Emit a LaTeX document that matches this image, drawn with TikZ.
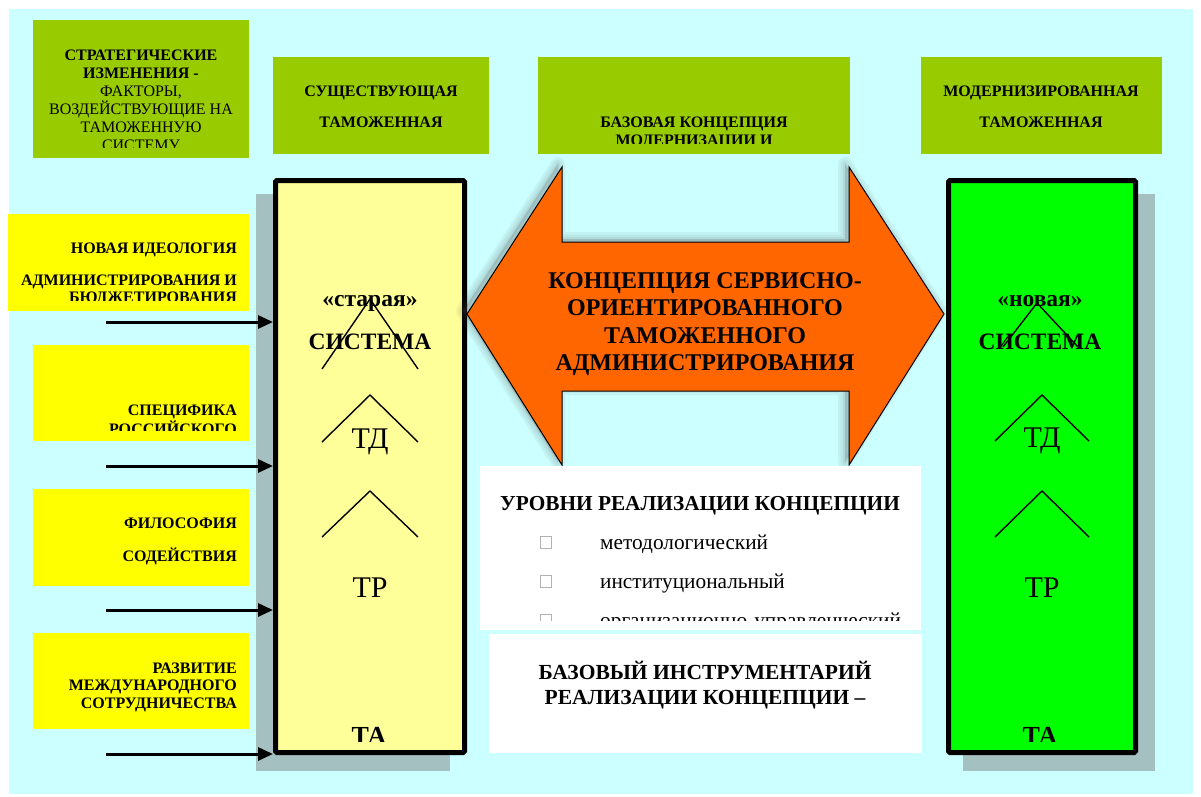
\documentclass[tikz,border=0pt]{standalone}
\usepackage{fontspec}
\setmainfont{Liberation Serif}
\usetikzlibrary{arrows.meta}
\definecolor{bgcyan}{HTML}{CCFFFF}
\definecolor{topgreen}{HTML}{99CC00}
\definecolor{yel}{HTML}{FFFF00}
\definecolor{lightyel}{HTML}{FFFF99}
\definecolor{brightgreen}{HTML}{00FF00}
\definecolor{orng}{HTML}{FF6600}
\definecolor{shadowc}{HTML}{A5C0C1}
\newcommand{\sz}[2]{\fontsize{#1}{#2}\selectfont}
\newcommand{\dblarrowpath}{(467,314) -- (562,167) -- (562,242) -- (849,242) -- (849,167) -- (944,314)
  -- (849,465) -- (849,391) -- (562,391) -- (562,465) -- cycle}
\begin{document}
\begin{tikzpicture}[x=1pt,y=-1pt,
  hdrbox/.style={fill=topgreen},
  sidebox/.style={fill=yel},
  whitebox/.style={fill=white},
  sysbox/.style={draw=black,line width=5pt,rounded corners=1.5pt,inner sep=0pt,outer sep=2.5pt},
  hdrtext/.style={anchor=base,align=center,inner sep=0pt,font=\bfseries\sz{16}{31}},
  sidetext/.style={anchor=base east,align=right,inner sep=0pt,font=\bfseries\sz{16}{17}},
  feed/.style={line width=3pt,-{Triangle[length=15pt,width=13pt]}},
  chev/.style={line width=1.4pt},
  chk/.style={draw=gray!60,line width=0.6pt,minimum width=11pt,minimum height=12pt,inner sep=0pt},
  item/.style={anchor=base west,inner sep=0pt,font=\sz{21.3}{24}},
  systext/.style={anchor=base,inner sep=0pt,font=\bfseries\sz{23.5}{26}},
  lvltext/.style={anchor=base,inner sep=0pt,font=\sz{30}{32}},
  softshadow/.style={draw=black!70,fill=black!70,line join=round,opacity=0.07,line width=#1}
]
\useasboundingbox (0,0) rectangle (1201,796);
\fill[white] (0,0) rectangle (1201,796);
\fill[bgcyan] (9,9) rectangle (1193,794);

% top header boxes
\fill[hdrbox] (33,20) rectangle (249,158);
\begin{scope}
\clip (33,20) rectangle (249,147);
\node[anchor=base,align=center,inner sep=0pt,font=\sz{16}{18}] (strat) at (141,150)
  {\textbf{СТРАТЕГИЧЕСКИЕ}\\\textbf{ИЗМЕНЕНИЯ -}\\ФАКТОРЫ,\\ВОЗДЕЙСТВУЮЩИЕ НА\\ТАМОЖЕННУЮ\\СИСТЕМУ};
\end{scope}

\fill[hdrbox] (273,57) rectangle (489,154);
\node[hdrtext] (exist) at (381,127) {СУЩЕСТВУЮЩАЯ\\ТАМОЖЕННАЯ};

\fill[hdrbox] (538,57) rectangle (850,154);
\begin{scope}
\clip (538,57) rectangle (850,143);
\node[hdrtext,font=\bfseries\sz{16}{18}] (base) at (694,145) {БАЗОВАЯ КОНЦЕПЦИЯ\\МОДЕРНИЗАЦИИ И};
\end{scope}

\fill[hdrbox] (921,57) rectangle (1162,154);
\node[hdrtext] (modern) at (1041,127) {МОДЕРНИЗИРОВАННАЯ\\ТАМОЖЕННАЯ};

% left factor boxes
\fill[sidebox] (8,214) rectangle (249,311);
\begin{scope}
\clip (8,214) rectangle (249,300);
\node[sidetext] (f1) at (237,302) {НОВАЯ ИДЕОЛОГИЯ\\[15pt]АДМИНИСТРИРОВАНИЯ И\\БЮДЖЕТИРОВАНИЯ};
\end{scope}

\fill[sidebox] (33,345) rectangle (249,441);
\begin{scope}
\clip (33,345) rectangle (249,430);
\node[sidetext] (f2) at (237,434) {СПЕЦИФИКА\\РОССИЙСКОГО};
\end{scope}

\fill[sidebox] (33,489) rectangle (249,586);
\node[sidetext,font=\bfseries\sz{16}{33}] (f3) at (237,561) {ФИЛОСОФИЯ\\СОДЕЙСТВИЯ};

\fill[sidebox] (33,633) rectangle (249,729);
\node[sidetext,font=\bfseries\sz{16}{17.5}] (f4) at (237,708) {РАЗВИТИЕ\\МЕЖДУНАРОДНОГО\\СОТРУДНИЧЕСТВА};

% shadows of system boxes
\fill[shadowc] (256,194) rectangle (450,771);
\fill[shadowc] (963,194) rectangle (1155,771);

% old system
\node[sysbox,fill=lightyel,minimum width=189pt,minimum height=572pt] (oldsys) at (370,466.5) {};
\node[systext] (oldlbl) at (370,306) {«старая»};
\node[systext] (oldsysl) at (370,349) {СИСТЕМА};
\draw[chev] (322,369) -- (370,299) -- (418,369);
\node[lvltext] (oldtd) at (370,448) {ТД};
\draw[chev] (322,442) -- (370,395) -- (418,442);
\draw[chev] (322,537) -- (370,491) -- (418,537);
\node[lvltext] (oldtr) at (370,597) {ТР};
\begin{scope}
\clip (280,700) rectangle (460,741);
\node[anchor=base,inner sep=0pt,font=\bfseries\sz{26}{30}] (oldta) at (369,744) {ТА};
\end{scope}

% new system
\node[sysbox,fill=brightgreen,minimum width=187pt,minimum height=572pt] (newsys) at (1042,466.5) {};
\node[systext] (newlbl) at (1040,306) {«новая»};
\node[systext] (newsysl) at (1040,349) {СИСТЕМА};
\draw[chev] (1003,347) -- (1037,303) -- (1078,347);
\node[lvltext] (newtd) at (1042,447) {ТД};
\draw[chev] (995,441) -- (1042,395) -- (1089,441);
\draw[chev] (995,537) -- (1042,491) -- (1089,537);
\node[lvltext] (newtr) at (1042,597) {ТР};
\begin{scope}
\clip (952,700) rectangle (1132,741);
\node[anchor=base,inner sep=0pt,font=\bfseries\sz{26}{30}] (newta) at (1040,744) {ТА};
\end{scope}

% feed arrows
\coordinate (s1) at (106,322);
\coordinate (s2) at (106,466);
\coordinate (s3) at (106,610);
\coordinate (s4) at (106,754);
\draw[feed] (s1) -- (s1 -| oldsys.west);
\draw[feed] (s2) -- (s2 -| oldsys.west);
\draw[feed] (s3) -- (s3 -| oldsys.west);
\draw[feed] (s4) -- (s4 -| oldsys.west);

% central double arrow with soft shadow
\begin{scope}[shift={(-4,-3)}]
\path[softshadow=14pt] \dblarrowpath;
\path[softshadow=9pt] \dblarrowpath;
\path[softshadow=4pt] \dblarrowpath;
\end{scope}
\filldraw[fill=orng,draw=black,line width=1pt,line join=miter] \dblarrowpath;
\node[anchor=base,align=center,inner sep=0pt,font=\bfseries\sz{24}{27.5}] (concept) at (705,370.5)
  {КОНЦЕПЦИЯ СЕРВИСНО-\\ОРИЕНТИРОВАННОГО\\ТАМОЖЕННОГО\\АДМИНИСТРИРОВАНИЯ};

% levels box
\fill[whitebox] (480,466) rectangle (921,630);
\node[anchor=base,inner sep=0pt,font=\bfseries\sz{21.3}{24}] (levels) at (700,510) {УРОВНИ РЕАЛИЗАЦИИ КОНЦЕПЦИИ};
\node[chk] (k1) at (546,542) {};
\node[item] (l1) at (600,549) {методологический};
\node[chk] (k2) at (546,581) {};
\node[item] (l2) at (600,588) {институциональный};
\begin{scope}
\clip (480,466) rectangle (921,620);
\node[chk] (k3) at (546,620) {};
\node[item] (l3) at (600,627) {организационно-управленческий};
\end{scope}

% tools box
\fill[whitebox] (489,634) rectangle (922,753);
\node[anchor=base,align=center,inner sep=0pt,font=\bfseries\sz{21.5}{25}] (tools) at (705,704)
  {БАЗОВЫЙ ИНСТРУМЕНТАРИЙ\\РЕАЛИЗАЦИИ КОНЦЕПЦИИ –};
\end{tikzpicture}
\end{document}
